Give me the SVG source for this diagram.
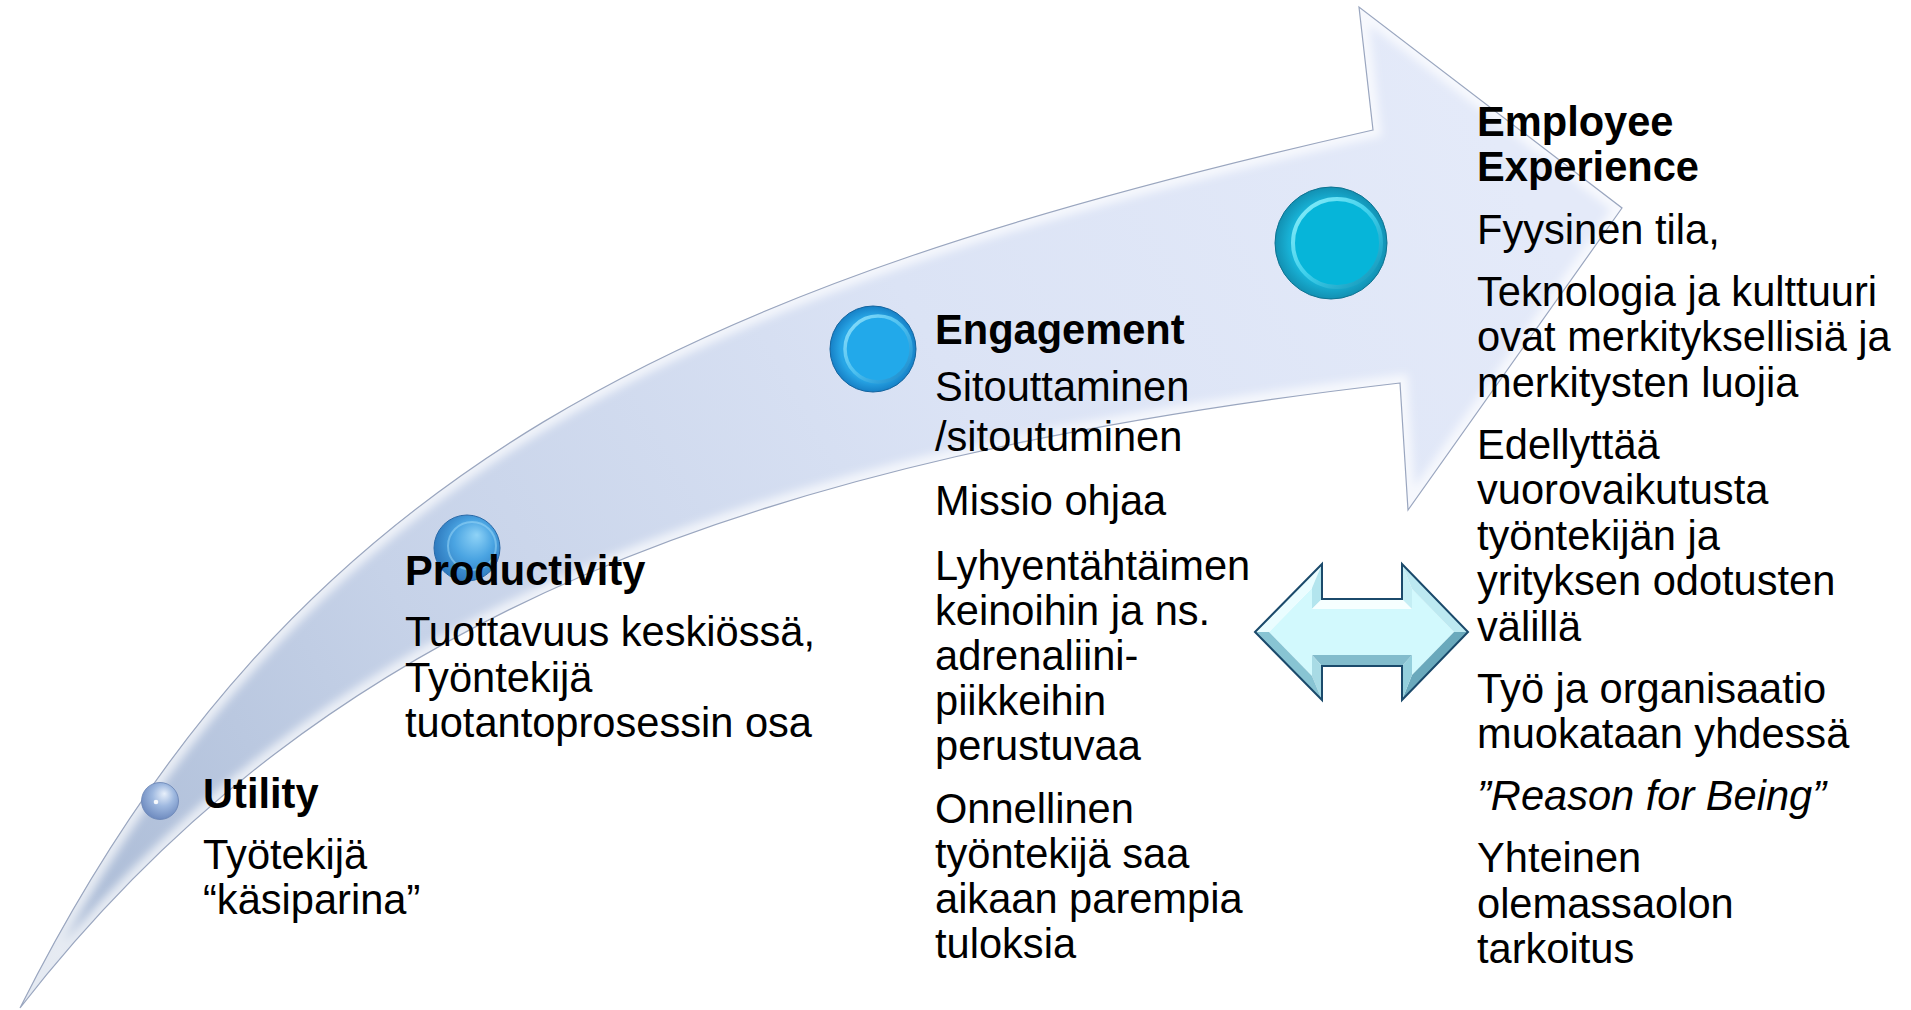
<svg xmlns="http://www.w3.org/2000/svg" width="1911" height="1010" viewBox="0 0 1911 1010">
  <style>
    .t { font-family: "Liberation Sans", Arial, sans-serif; font-size: 41.6px; fill: #000; }
    .h { font-weight: bold; }
    .i { font-style: italic; }
    .edge { fill: none; stroke: #1b4a6b; stroke-width: 2; stroke-linejoin: miter; }
  </style>
  <defs>
    <linearGradient id="shaftFill" gradientUnits="userSpaceOnUse" x1="40" y1="990" x2="1500" y2="150">
      <stop offset="0" stop-color="#a8b9d4"/>
      <stop offset="0.3" stop-color="#c6d2e8"/>
      <stop offset="0.65" stop-color="#dbe3f5"/>
      <stop offset="1" stop-color="#e4eaf9"/>
    </linearGradient>
    <clipPath id="arrowClip">
      <path id="arrowShape" d="M 20 1008 C 295 460, 691 285, 1373 130 L 1359 7 L 1622 208 L 1408 510 L 1400 383 C 755 458, 327 613, 20 1008 Z"/>
    </clipPath>
    <filter id="blur4" x="-5%" y="-5%" width="110%" height="110%">
      <feGaussianBlur stdDeviation="4"/>
    </filter>
    <radialGradient id="uBall" cx="0.55" cy="0.4" r="0.65" fx="0.62" fy="0.3">
      <stop offset="0" stop-color="#e8f0fb"/>
      <stop offset="0.45" stop-color="#9fb9e0"/>
      <stop offset="1" stop-color="#6885bb"/>
    </radialGradient>
    <radialGradient id="pBall" cx="0.55" cy="0.45" r="0.6" fx="0.65" fy="0.3">
      <stop offset="0" stop-color="#8fd3f7"/>
      <stop offset="0.5" stop-color="#4aa4e2"/>
      <stop offset="1" stop-color="#2a73b8"/>
    </radialGradient>
    <radialGradient id="eRim" cx="0.5" cy="0.5" r="0.5">
      <stop offset="0.75" stop-color="#28a6e6"/>
      <stop offset="1" stop-color="#1680c6"/>
    </radialGradient>
    <linearGradient id="eRing" x1="0" y1="0" x2="1" y2="1">
      <stop offset="0" stop-color="#8fe0fb"/>
      <stop offset="0.5" stop-color="#4cc0f0"/>
      <stop offset="1" stop-color="#1785c8"/>
    </linearGradient>
    <radialGradient id="xRim" cx="0.5" cy="0.5" r="0.5">
      <stop offset="0.75" stop-color="#18b2d6"/>
      <stop offset="1" stop-color="#1290b2"/>
    </radialGradient>
    <linearGradient id="xRing" x1="0" y1="0" x2="1" y2="1">
      <stop offset="0" stop-color="#8ff0fb"/>
      <stop offset="0.5" stop-color="#3fd0ec"/>
      <stop offset="1" stop-color="#0f90b4"/>
    </linearGradient>
  </defs>

  <!-- big rising arrow -->
  <g id="rising-arrow">
    <use href="#arrowShape" fill="url(#shaftFill)"/>
    <g clip-path="url(#arrowClip)">
      <use href="#arrowShape" fill="none" stroke="#ffffff" stroke-opacity="0.7" stroke-width="16" filter="url(#blur4)"/>
    </g>
    <use href="#arrowShape" fill="none" stroke="#9aa6bf" stroke-width="1.2"/>
  </g>

  <!-- stage markers -->
  <g id="utility">
    <circle cx="160" cy="801" r="18.5" fill="url(#uBall)" stroke="#6783b4" stroke-width="0.8"/>
    <circle cx="156" cy="802" r="2.3" fill="#ffffff" opacity="0.9"/>
    <text class="t h" x="203" y="808">Utility</text>
    <text class="t" x="203" y="869">Työtekijä</text>
    <text class="t" x="203" y="914">“käsiparina”</text>
  </g>

  <g id="productivity">
    <circle cx="467" cy="548" r="33" fill="url(#pBall)" stroke="#2a6aa8" stroke-width="1"/>
    <circle cx="472" cy="546" r="24" fill="none" stroke="#9fdcf9" stroke-width="2" opacity="0.5"/>
    <text class="t h" x="405" y="585">Productivity</text>
    <text class="t" x="405" y="646">Tuottavuus keskiössä,</text>
    <text class="t" x="405" y="692">Työntekijä</text>
    <text class="t" x="405" y="737">tuotantoprosessin osa</text>
  </g>

  <g id="engagement">
    <circle cx="873" cy="349" r="43" fill="url(#eRim)" stroke="#12639e" stroke-width="1"/>
    <circle cx="878" cy="349" r="33" fill="#22a9ea" stroke="url(#eRing)" stroke-width="3.5"/>
    <text class="t h" x="935" y="344">Engagement</text>
    <text class="t" x="935" y="401">Sitouttaminen</text>
    <text class="t" x="935" y="451">/sitoutuminen</text>
    <text class="t" x="935" y="515">Missio ohjaa</text>
    <text class="t" x="935" y="580">Lyhyentähtäimen</text>
    <text class="t" x="935" y="625">keinoihin ja ns.</text>
    <text class="t" x="935" y="670">adrenaliini-</text>
    <text class="t" x="935" y="715">piikkeihin</text>
    <text class="t" x="935" y="760">perustuvaa</text>
    <text class="t" x="935" y="823">Onnellinen</text>
    <text class="t" x="935" y="868">työntekijä saa</text>
    <text class="t" x="935" y="913">aikaan parempia</text>
    <text class="t" x="935" y="958">tuloksia</text>
  </g>

  <g id="employee-experience">
    <circle cx="1331" cy="243" r="56" fill="url(#xRim)" stroke="#0e7391" stroke-width="1"/>
    <circle cx="1337" cy="243" r="44" fill="#06b5d9" stroke="url(#xRing)" stroke-width="4"/>
    <text class="t h" x="1477" y="136">Employee</text>
    <text class="t h" x="1477" y="181">Experience</text>
    <text class="t" x="1477" y="244">Fyysinen tila,</text>
    <text class="t" x="1477" y="306">Teknologia ja kulttuuri</text>
    <text class="t" x="1477" y="351">ovat merkityksellisiä ja</text>
    <text class="t" x="1477" y="397">merkitysten luojia</text>
    <text class="t" x="1477" y="459">Edellyttää</text>
    <text class="t" x="1477" y="504">vuorovaikutusta</text>
    <text class="t" x="1477" y="550">työntekijän ja</text>
    <text class="t" x="1477" y="595">yrityksen odotusten</text>
    <text class="t" x="1477" y="641">välillä</text>
    <text class="t" x="1477" y="703">Työ ja organisaatio</text>
    <text class="t" x="1477" y="748">muokataan yhdessä</text>
    <text class="t i" x="1477" y="810">”Reason for Being”</text>
    <text class="t" x="1477" y="872">Yhteinen</text>
    <text class="t" x="1477" y="918">olemassaolon</text>
    <text class="t" x="1477" y="963">tarkoitus</text>
  </g>

  <!-- two-way exchange arrow -->
  <g id="connectors">
    <g id="exchange-arrow">
      <polygon points="1269,632 1312,588 1312,609 1412,609 1412,589 1454,632 1412,675 1412,655 1312,655 1312,676" fill="#d2f9fd"/>
      <polygon points="1255,632 1322,564 1312,588 1269,632" fill="#eafdff"/>
      <polygon points="1322,564 1322,599 1312,609 1312,588" fill="#b3e5ee"/>
      <polygon points="1322,599 1402,599 1412,609 1312,609" fill="#f6ffff"/>
      <polygon points="1402,599 1402,564 1412,589 1412,609" fill="#c4eef4"/>
      <polygon points="1402,564 1468,632 1454,632 1412,589" fill="#bde9f1"/>
      <polygon points="1468,632 1402,700 1412,675 1454,632" fill="#6aa9bc"/>
      <polygon points="1402,700 1402,666 1412,655 1412,675" fill="#94cfdc"/>
      <polygon points="1402,666 1322,666 1312,655 1412,655" fill="#82bccc"/>
      <polygon points="1322,666 1322,700 1312,676 1312,655" fill="#a8dbe5"/>
      <polygon points="1322,700 1255,632 1269,632 1312,676" fill="#88c4d3"/>
      <polygon class="edge" points="1255,632 1322,564 1322,599 1402,599 1402,564 1468,632 1402,700 1402,666 1322,666 1322,700"/>
    </g>
  </g>
</svg>
